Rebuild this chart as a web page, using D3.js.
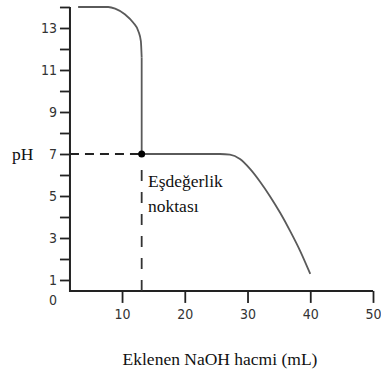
<!DOCTYPE html>
<html>
<head>
<meta charset="utf-8">
<script src="https://cdn.jsdelivr.net/npm/d3@7"></script>
<style>
  html, body { margin: 0; padding: 0; background: #fff; }
  .tick text { font-family: 'Liberation Sans Narrow', 'DejaVu Sans Condensed', sans-serif; font-size: 14px; fill: #333; }
  .lbl { font-family: 'Liberation Serif', 'Times New Roman', serif; font-size: 17.5px; fill: #111; }
</style>
</head>
<body>
<div id="chart"></div>
<script>
// titration curve
const volume = [3.0, 7.8, 8.9, 10.5, 11.8, 12.6, 13.0, 13.13,
                13.13, 20, 25.6, 27.2, 28.8, 30.4, 32.0, 33.6, 35.2, 36.8, 38.4, 40];
const pH = [14, 14, 13.92, 13.64, 13.25, 12.85, 12.37, 11.6,
            7, 7, 7, 6.97, 6.76, 6.29, 5.68, 4.98, 4.2, 3.33, 2.38, 1.29];
const equivalence = { volume: 13.13, pH: 7 };

const xTicks = [10, 20, 30, 40, 50];
const yTicks = [1, 2, 3, 4, 5, 6, 7, 8, 9, 10, 11, 12, 13, 14];
const yLabels = [1, 3, 5, 7, 9, 11, 13];

const width = 381, height = 378;
const xAxisAt = 0.48; // pH where the x axis sits
const yAxisAt = 1.7;  // mL where the y axis sits

const svg = d3.select('#chart')
  .append('svg')
  .attr('width', width)
  .attr('height', height);

const x = d3.scaleLinear().domain([0, 50]).range([59.3, 373]);
const y = d3.scaleLinear().domain([0, 14]).range([301, 7]);

// axes
const yAxis = svg.append('g')
  .attr('transform', `translate(${x(yAxisAt)},0)`)
  .call(d3.axisLeft(y)
    .tickValues(yTicks)
    .tickSize(10)
    .tickPadding(3)
    .tickFormat(d => yLabels.includes(d) ? d : ''));
yAxis.select('.domain').remove();
yAxis.selectAll('.tick line').attr('stroke', '#222').attr('stroke-width', 1.8);

const xAxis = svg.append('g')
  .attr('transform', `translate(0,${y(xAxisAt)})`)
  .call(d3.axisBottom(x)
    .tickValues(xTicks)
    .tickSize(12)
    .tickPadding(6));
xAxis.select('.domain').remove();
xAxis.selectAll('.tick line').attr('stroke', '#222').attr('stroke-width', 1.8);

svg.append('path')
  .attr('d', `M${x(yAxisAt)},${y(14)}V${y(xAxisAt)}H${x(50)}`)
  .attr('fill', 'none')
  .attr('stroke', '#222')
  .attr('stroke-width', 2);

// the lone "0" under the y axis
svg.append('text')
  .attr('x', x(yAxisAt) - 13)
  .attr('y', y(0))
  .attr('dy', '0.32em')
  .attr('text-anchor', 'end')
  .style('font-family', "'Liberation Sans Narrow', 'DejaVu Sans Condensed', sans-serif")
  .style('font-size', '14px')
  .style('fill', '#333')
  .text('0');

// dashed guides to the equivalence point
svg.append('line')
  .attr('x1', x(yAxisAt)).attr('x2', x(equivalence.volume))
  .attr('y1', y(equivalence.pH)).attr('y2', y(equivalence.pH))
  .attr('stroke', '#222')
  .attr('stroke-width', 1.8)
  .attr('stroke-dasharray', '9,6');

// vertical guide leaves a gap under the point, like the original
svg.append('line')
  .attr('x1', x(equivalence.volume)).attr('x2', x(equivalence.volume))
  .attr('y1', y(xAxisAt)).attr('y2', y(equivalence.pH) + 15)
  .attr('stroke', '#333')
  .attr('stroke-width', 1.8)
  .attr('stroke-dasharray', '11,11');

// curve, in three pieces so the vertical drop stays straight
const pts = volume.map((v, i) => [v, pH[i]]);
const smooth = d3.line().x(d => x(d[0])).y(d => y(d[1])).curve(d3.curveMonotoneX);
const straight = d3.line().x(d => x(d[0])).y(d => y(d[1]));

[[pts.slice(0, 8), smooth], [pts.slice(7, 9), straight], [pts.slice(8), smooth]].forEach(([seg, gen]) => {
  svg.append('path')
    .datum(seg)
    .attr('d', gen)
    .attr('fill', 'none')
    .attr('stroke', '#5a5a5a')
    .attr('stroke-width', 1.8)
    .attr('stroke-linejoin', 'round');
});

svg.append('circle')
  .attr('cx', x(equivalence.volume))
  .attr('cy', y(equivalence.pH))
  .attr('r', 3.5)
  .attr('fill', '#000');

// labels
svg.append('text').attr('class', 'lbl')
  .attr('x', 12).attr('y', 160)
  .text('pH');

svg.append('text').attr('class', 'lbl')
  .attr('x', 148).attr('y', 187)
  .text('Eşdeğerlik');

svg.append('text').attr('class', 'lbl')
  .attr('x', 148).attr('y', 212)
  .text('noktası');

svg.append('text').attr('class', 'lbl')
  .attr('x', 220).attr('y', 365)
  .attr('text-anchor', 'middle')
  .text('Eklenen NaOH hacmi (mL)');
</script>
</body>
</html>
